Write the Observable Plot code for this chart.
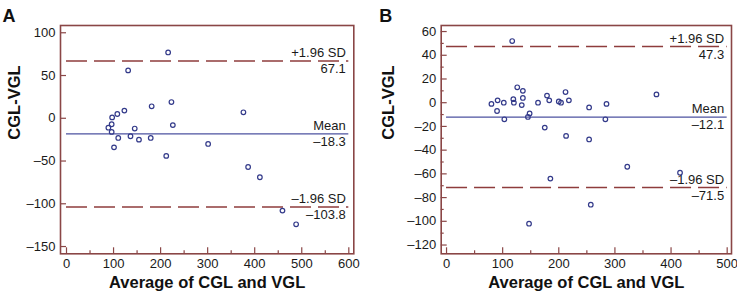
<!DOCTYPE html>
<html>
<head>
<meta charset="utf-8">
<script src="https://cdn.jsdelivr.net/npm/d3@7"></script>
<script src="https://cdn.jsdelivr.net/npm/@observablehq/plot@0.6"></script>
<style>
  body { margin: 0; background: #fff; }
  #wrap { display: flex; width: 737px; height: 297px; }
  svg { display: block; }
</style>
</head>
<body>
<div id="wrap"></div>
<script>
// Panel A data
const aAvg  = [216, 131, 181, 223, 123, 108, 97, 96, 89, 96, 226, 145, 110, 136, 154, 179, 101, 301, 212, 376, 386, 411, 459, 488];
const aDiff = [77, 56, 14, 19, 9, 5, 1, -7, -11, -16, -8, -12, -23, -21, -25, -23, -34, -30, -44, 7, -57, -69, -108, -124];
const aLines = [67.1, -18.3, -103.8];
const aXTicks = [0, 100, 200, 300, 400, 500, 600];
const aXMinor = [50, 150, 250, 350, 450, 550];
const aYTicks = [100, 50, 0, -50, -100, -150];
const aYMinor = [];

// Panel B data
const bAvg  = [117, 80, 91, 102, 90, 103, 119, 120, 126, 136, 136, 134, 148, 145, 163, 179, 183, 175, 200, 204, 212, 218, 213, 254, 254, 285, 283, 374, 322, 416, 185, 257, 147];
const bDiff = [52, -1, 2, 0, -7, -14, 3, 0, 13, 10, 4, -2, -9, -12, 0, 6, 2, -21, 1, 0, 9, 2, -28, -4, -31, -1, -14, 7, -54, -59, -64, -86, -102];
const bLines = [47.3, -12.1, -71.5];
const bXTicks = [0, 100, 200, 300, 400, 500];
const bXMinor = [50, 150, 250, 350, 450];
const bYTicks = [60, 40, 20, 0, -20, -40, -60, -80, -100, -120];
const bYMinor = [50, 30, 10, -10, -30, -50, -70, -90, -110];

const lineNames = ["+1.96 SD", "Mean", "\u20131.96 SD"];
const xTitle = "Average of CGL and VGL";
const yTitle = "CGL-VGL";

const fmt = d => d < 0 ? "\u2013" + Math.abs(d) : String(d);

const frameColor = "#8a4646";
const dashColor = "#8e3c3c";
const meanColor = "#4c52a0";
const ptColor = "#333a8a";
const font = "'Liberation Sans', Arial, Helvetica, sans-serif";

function panel(o) {
  const pts = o.avg.map((v, i) => ({x: v, y: o.diff[i]}));
  const xMin = o.xDomain[0], yMin = o.yDomain[0];
  const xEnd = o.xTicks[o.xTicks.length - 1];
  const lines = o.lines.map((v, i) => ({y: v, name: lineNames[i], val: fmt(v)}));
  return Plot.plot({
    width: o.width, height: 297,
    marginLeft: o.ml, marginRight: o.mr, marginTop: 25, marginBottom: 43.7,
    style: {fontFamily: font, fontSize: "13px", color: "#1a1a1a", background: "#fff"},
    x: {domain: o.xDomain, ticks: o.xTicks, tickSize: 0, tickPadding: 5, tickFormat: fmt, label: null},
    y: {domain: o.yDomain, ticks: o.yTicks, tickSize: 0, tickPadding: 5, tickFormat: fmt, label: null},
    marks: [
      // inward ticks
      Plot.ruleX(o.xTicks, {x: d => d, y1: yMin, y2: yMin, insetTop: -6, stroke: frameColor, strokeWidth: 1.2}),
      Plot.ruleX(o.xMinor, {x: d => d, y1: yMin, y2: yMin, insetTop: -3, stroke: frameColor, strokeWidth: 1.2}),
      Plot.ruleY(o.yTicks, {y: d => d, x1: xMin, x2: xMin, insetRight: -6, stroke: frameColor, strokeWidth: 1.2}),
      Plot.ruleY(o.yMinor, {y: d => d, x1: xMin, x2: xMin, insetRight: -3, stroke: frameColor, strokeWidth: 1.2}),
      // reference lines
      Plot.ruleY([lines[0], lines[2]], {y: "y", x1: 0, x2: xEnd, stroke: dashColor, strokeWidth: 1.5, strokeDasharray: "21,7"}),
      Plot.ruleY([lines[1]], {y: "y", x1: 0, x2: xEnd, stroke: meanColor, strokeWidth: 1.3}),
      Plot.text(lines, {x: xEnd, y: "y", text: "name", textAnchor: "end", lineAnchor: "bottom", dy: -4, dx: -3, fontSize: 13, fill: "#1a1a1a"}),
      Plot.text(lines, {x: xEnd, y: "y", text: "val", textAnchor: "end", lineAnchor: "top", dy: 3, dx: -3, fontSize: 13, fill: "#1a1a1a"}),
      // points
      Plot.dot(pts, {x: "x", y: "y", r: 2.3, stroke: ptColor, strokeWidth: 1.2, fill: "none"}),
      Plot.frame({stroke: frameColor, strokeWidth: 1.6}),
      // titles
      Plot.text([yTitle], {frameAnchor: "left", dx: o.yTitleDx, rotate: -90, fontSize: 16.5, fontWeight: "bold", fill: "#111"}),
      Plot.text([xTitle], {frameAnchor: "bottom", dy: 34, fontSize: 16.5, fontWeight: "bold", fill: "#111"}),
      Plot.text([o.letter], {frameAnchor: "top-left", dx: o.letterDx, dy: -16, fontSize: 18, fontWeight: "bold", fill: "#111", textAnchor: "start"})
    ]
  });
}

const wrap = document.getElementById("wrap");
wrap.appendChild(panel({
  avg: aAvg, diff: aDiff, lines: aLines,
  xTicks: aXTicks, xMinor: aXMinor, yTicks: aYTicks, yMinor: aYMinor,
  xDomain: [-12.75, 610.6], yDomain: [-158.5, 108.5],
  width: 368, ml: 60, mr: 14.7, yTitleDx: -46, letter: "A", letterDx: -58
}));
wrap.appendChild(panel({
  avg: bAvg, diff: bDiff, lines: bLines,
  xTicks: bXTicks, xMinor: bXMinor, yTicks: bYTicks, yMinor: bYMinor,
  xDomain: [-9.5, 507.7], yDomain: [-127.4, 65.1],
  width: 369, ml: 72.7, mr: 6, yTitleDx: -52, letter: "B", letterDx: -62
}));
</script>
</body>
</html>
